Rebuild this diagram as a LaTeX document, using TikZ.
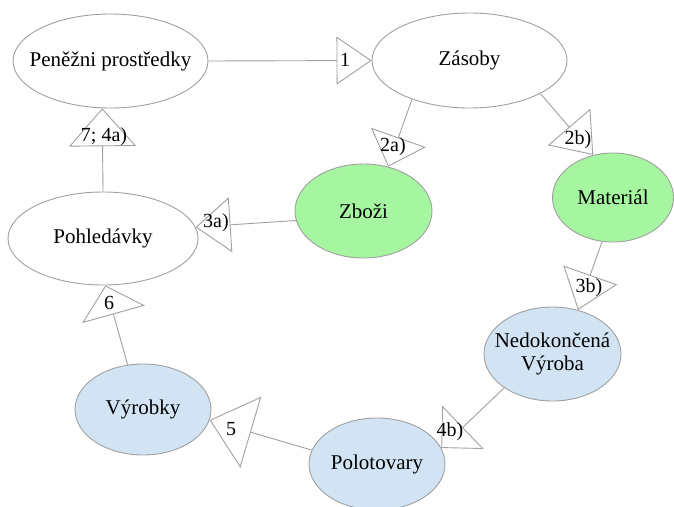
\documentclass[tikz,border=0pt]{standalone}
\usepackage{fontspec}
\setmainfont{Liberation Serif}
\usetikzlibrary{arrows.meta,shapes.geometric}
\definecolor{lc}{RGB}{160,160,160}
\definecolor{gfill}{RGB}{166,245,160}
\definecolor{bfill}{RGB}{210,228,244}
\begin{document}
\begin{tikzpicture}[x=1pt,y=-1pt,
  every node/.style={font=\fontsize{20}{23}\selectfont},
  big/.style={font=\fontsize{21}{23}\selectfont},
  state/.style={draw=lc, line width=0.9pt, ellipse, inner sep=0pt},
  conn/.style={draw=lc, line width=0.9pt},
  tri/.style 2 args={-{Triangle[open,length=#1,width=#2]}},
  lab/.style={inner sep=0pt}]
\useasboundingbox (0,0) rectangle (674,506);
% states
\node[state, minimum width=195pt, minimum height=94pt, label={[big]center:Peněžni prostředky}] (pen) at (110.5,61) {};
\node[state, minimum width=195pt, minimum height=95pt, label={[big]center:Zásoby}] (zas) at (469.5,60.5) {};
\node[state, fill=gfill, minimum width=137pt, minimum height=94pt, label={[big]center:Zboži}] (zbo) at (363.5,211) {};
\node[state, fill=gfill, minimum width=121pt, minimum height=89pt, label={[big]center:Materiál}] (mat) at (613,197.5) {};
\node[state, fill=bfill, minimum width=137pt, minimum height=94pt, label={[big,align=center]center:{Nedokončená\\Výroba}}] (ned) at (552.5,354) {};
\node[state, fill=bfill, minimum width=136pt, minimum height=92pt, label={[big]center:Polotovary}] (pol) at (377,464) {};
\node[state, fill=bfill, minimum width=136pt, minimum height=91pt, label={[big]center:Výrobky}] (vyr) at (143,409.5) {};
\node[state, minimum width=190pt, minimum height=93pt, label={[big]center:Pohledávky}] (poh) at (103,238.5) {};
% connectors
\draw[conn, tri={35pt}{48pt}] (pen.east) -- (zas.west);
\draw[conn, tri={31pt}{58pt}] (zas.214.5) -- (zbo.61.3);
\draw[conn, tri={37pt}{56pt}] (zas.335.5) -- (mat.115.3);
\draw[conn, tri={35pt}{55pt}] (zbo.188.3) -- (poh.7.9);
\draw[conn, tri={37pt}{57pt}] (mat.256.1) -- (ned.60.9);
\draw[conn, tri={30pt}{60pt}] (ned.215.8) -- (pol.14.9);
\draw[conn, tri={43pt}{74pt}] (pol.168.9) -- (vyr.351.1);
\draw[conn, tri={30pt}{65pt}] (vyr.109.4) -- (poh.273.7);
\draw[conn, tri={38pt}{67pt}] (poh.90) -- (pen.260.5);
% labels
\node[lab] (l1) at (345,60) {1};
\node[lab] (l2a) at (393,147) {2a)};
\node[lab] (l2b) at (578,140) {2b)};
\node[lab] (l3a) at (216,223) {3a)};
\node[lab] (l3b) at (589,288) {3b)};
\node[lab] (l4b) at (450,432) {4b)};
\node[lab] (l5) at (231,429) {5};
\node[lab] (l6) at (109,303) {6};
\node[lab] (l7) at (104,137) {7; 4a)};
\end{tikzpicture}
\end{document}
